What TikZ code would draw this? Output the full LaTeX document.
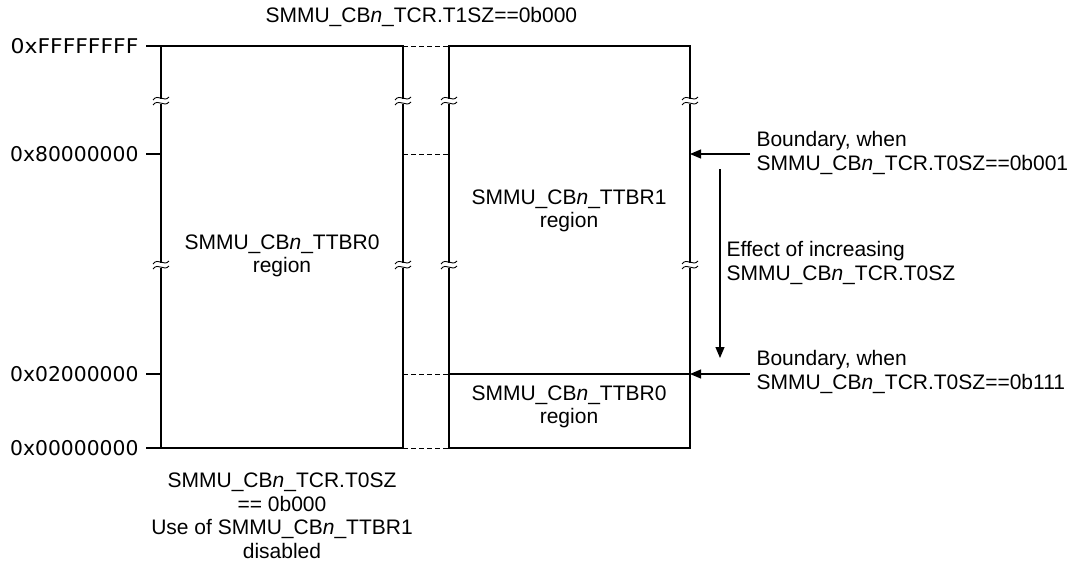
\documentclass[tikz,border=0pt]{standalone}
\usepackage{fontspec}
\setmainfont{Liberation Sans}
\newfontfamily\addrfont{DejaVu Sans}
\usetikzlibrary{arrows.meta}
\begin{document}
\begin{tikzpicture}[x=1pt,y=-1pt,line width=1.1pt,
  font=\fontsize{21}{23.5}\selectfont,
  lbl/.style={inner sep=0pt,align=center},
  llbl/.style={inner sep=0pt,align=left,anchor=west},
  addr/.style={inner sep=0pt,anchor=east,font=\addrfont\fontsize{20.3}{24}\selectfont},
  dsh/.style={dash pattern=on 5pt off 3pt,line width=0.9pt},
  arr/.style={-{Triangle[length=11pt,width=9pt]}},
  brk/.pic={
    \fill[white] (-1.5,-2.5) rectangle (1.5,2.5);
    \draw[line width=0.9pt] (-8,-1) .. controls (-3,-8) and (3,2) .. (8,-4);
    \draw[line width=0.9pt] (-8,4) .. controls (-3,-3) and (3,7) .. (8,1);
  }]
\useasboundingbox (0,0) rectangle (1090,562);
% corners
\coordinate (LTL) at (161,46);  \coordinate (LTR) at (403,46);
\coordinate (LBL) at (161,448); \coordinate (LBR) at (403,448);
\coordinate (RTL) at (449,46);  \coordinate (RTR) at (690,46);
\coordinate (RBL) at (449,448); \coordinate (RBR) at (690,448);
\coordinate (RML) at (449,374); \coordinate (RMR) at (690,374);
\coordinate (R8R) at (690,154);
% ticks
\coordinate (T0) at (146,46);  \coordinate (T1) at (146,154);
\coordinate (T2) at (146,374); \coordinate (T3) at (146,448);
\coordinate (L1) at (161,154); \coordinate (L2) at (161,374);
\coordinate (M1) at (403,154); \coordinate (M2) at (403,374);
\coordinate (N1) at (449,154); \coordinate (N2) at (449,374);
% boxes
\draw (LTL) rectangle (LBR);
\draw (RTL) rectangle (RBR);
\draw (RML) -- (RMR);
\draw (T0) -- (LTL); \draw (T1) -- (L1); \draw (T2) -- (L2); \draw (T3) -- (LBL);
% dashed connections
\draw[dsh] (LTR) -- (RTL);
\draw[dsh] (M1) -- (N1);
\draw[dsh] (M2) -- (N2);
\draw[dsh] (LBR) -- (RBL);
% break marks
\foreach \x in {161,403,449,690}{
  \pic at (\x,101) {brk};
  \pic at (\x,265) {brk};
}
% address labels
\node[addr] (a0) at (139,46) {\scalebox{1.08}[1]{0xFFFFFFFF}};
\node[addr] (a1) at (139,154) {0x80000000};
\node[addr] (a2) at (139,374) {0x02000000};
\node[addr] (a3) at (139,448) {0x00000000};
% region labels
\node[lbl] (ttbr0L) at (282,256) {SMMU\_CB\textit{n}\_TTBR0\\region};
\node[lbl] (ttbr1) at (569,211) {SMMU\_CB\textit{n}\_TTBR1\\region};
\node[lbl] (ttbr0R) at (569,407) {SMMU\_CB\textit{n}\_TTBR0\\region};
% top / bottom captions
\node[inner sep=0pt,anchor=west] (t1sz) at (265,17) {SMMU\_CB\textit{n}\_TCR.T1SZ==0b000};
\node[lbl] (t0sz) at (282,516) {SMMU\_CB\textit{n}\_TCR.T0SZ\\== 0b000\\Use of SMMU\_CB\textit{n}\_TTBR1\\disabled};
% right side annotations
\node[llbl] (b1) at (756,153) {Boundary, when\\SMMU\_CB\textit{n}\_TCR.T0SZ==0b001};
\node[llbl] (b2) at (756,372) {Boundary, when\\SMMU\_CB\textit{n}\_TCR.T0SZ==0b111};
\node[llbl] (eff) at (726,263) {Effect of increasing\\SMMU\_CB\textit{n}\_TCR.T0SZ};
\coordinate (A1s) at (750,154);
\coordinate (A2s) at (750,374);
\coordinate (Vs) at (720,169);
\coordinate (Ve) at (720,358);
\draw[arr] (A1s) -- (R8R);
\draw[arr] (A2s) -- (RMR);
\draw[arr] (Vs) -- (Ve);
\end{tikzpicture}
\end{document}
